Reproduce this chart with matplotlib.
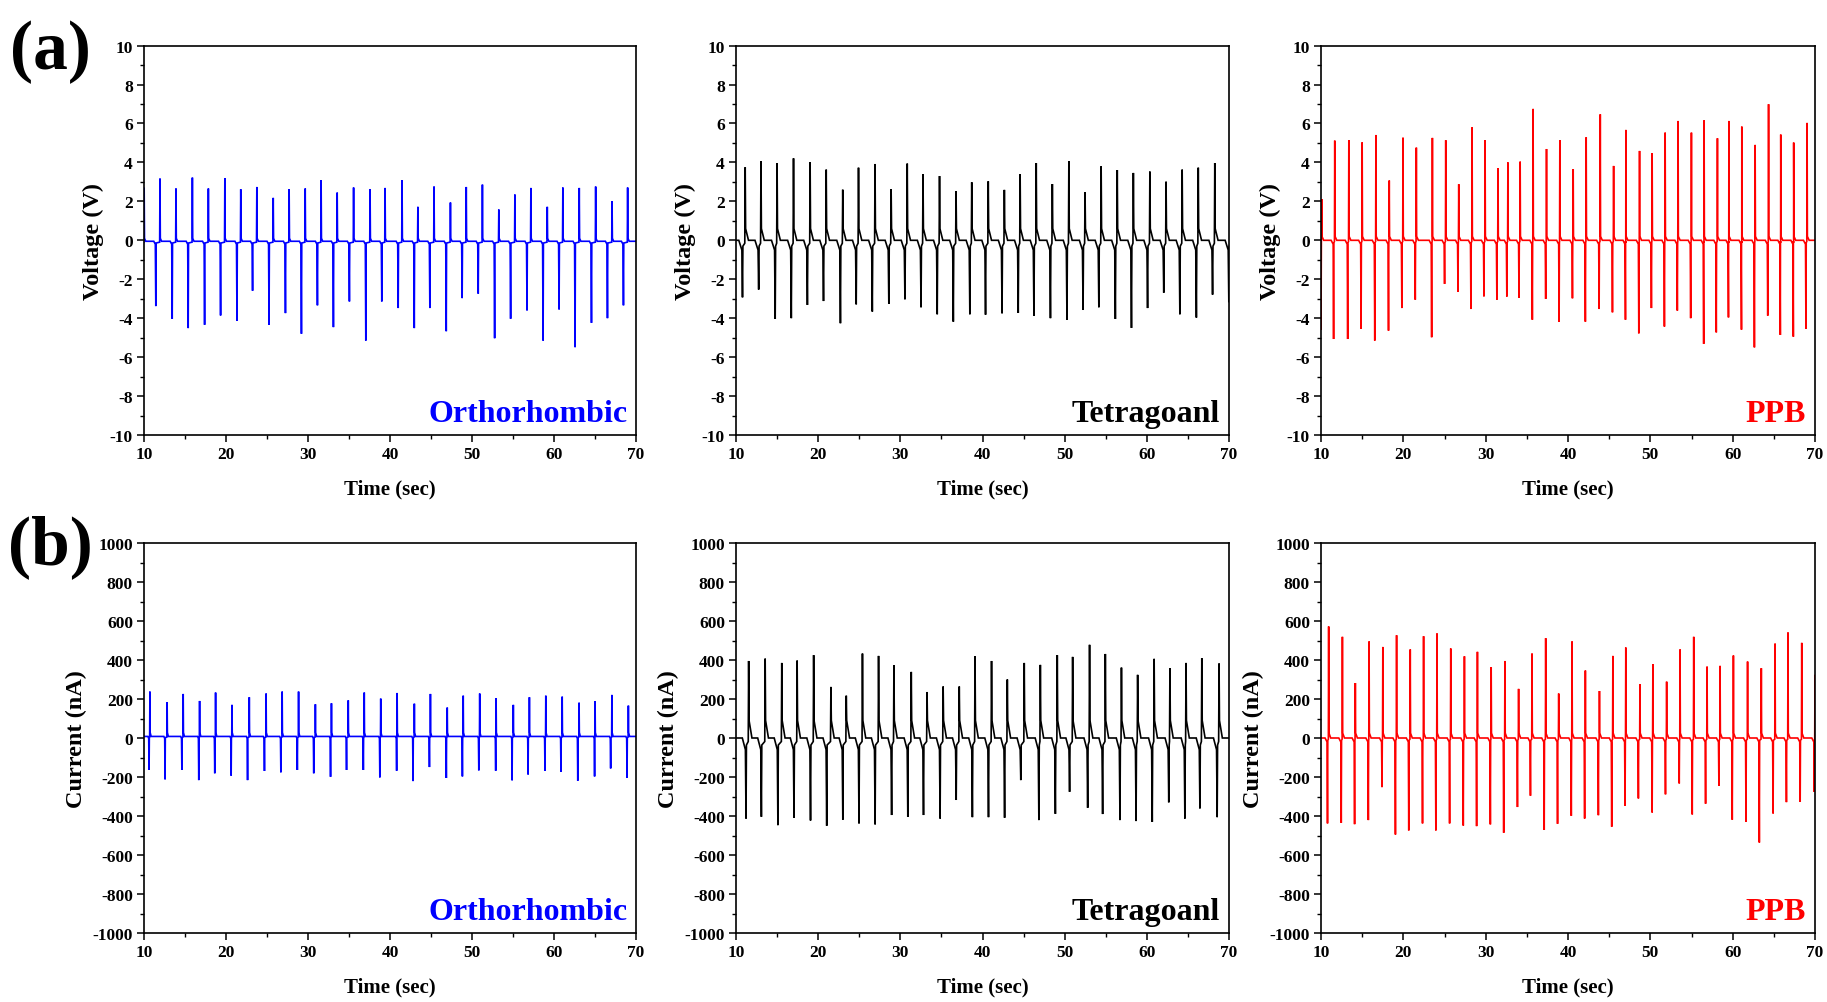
import numpy as np
import matplotlib
matplotlib.use("Agg")
import matplotlib.pyplot as plt
from matplotlib.ticker import MultipleLocator

plt.rcParams['font.family'] = ['Liberation Serif', 'DejaVu Serif']
plt.rcParams['font.weight'] = 'bold'
plt.rcParams['axes.unicode_minus'] = False

# ---------------- data ----------------
# (a) Voltage, Orthorhombic
ORTHO_V_POS_T = [10.02, 11.95, 13.9, 15.9, 17.85, 19.86, 21.8, 23.76, 25.76, 27.7, 29.66, 31.6, 33.56,
                 35.56, 37.57, 39.4, 41.47, 43.4, 45.37, 47.37, 49.3, 51.27, 53.27, 55.23, 57.18,
                 59.18, 61.08, 63.08, 65.08, 67.08, 68.98]
ORTHO_V_POS = [2.7, 3.17, 2.66, 3.22, 2.66, 3.2, 2.62, 2.74, 2.18, 2.62, 2.66, 3.09, 2.45, 2.71, 2.62,
               2.69, 3.09, 1.72, 2.76, 1.94, 2.74, 2.86, 1.58, 2.35, 2.69, 1.72, 2.71, 2.69, 2.76,
               2.0, 2.71]
ORTHO_V_NEG_T = [11.44, 13.44, 15.39, 17.39, 19.34, 21.34, 23.24, 25.25, 27.25, 29.2, 31.15, 33.1,
                 35.05, 37.05, 39.0, 41.0, 42.96, 44.86, 46.86, 48.8, 50.76, 52.76, 54.71, 56.71,
                 58.67, 60.62, 62.57, 64.57, 66.52, 68.47]
ORTHO_V_NEG = [-3.38, -4.03, -4.51, -4.34, -3.86, -4.13, -2.59, -4.34, -3.74, -4.8, -3.34, -4.46,
               -3.14, -5.15, -3.14, -3.48, -4.51, -3.48, -4.67, -2.97, -2.74, -5.03, -4.03, -3.6,
               -5.15, -3.55, -5.49, -4.24, -4.0, -3.34]

# (a) Voltage, Tetragoanl
TETRA_V_POS_T = [11.12, 13.04, 15.0, 17.0, 19.02, 20.98, 22.99, 24.91, 26.92, 28.88, 30.84, 32.76,
                 34.77, 36.78, 38.69, 40.7, 42.66, 44.58, 46.54, 48.5, 50.51, 52.48, 54.44, 56.4,
                 58.36, 60.37, 62.34, 64.3, 66.26, 68.27]
TETRA_V_POS = [3.75, 4.06, 3.97, 4.21, 4.02, 3.63, 2.6, 3.73, 3.92, 2.62, 3.94, 3.39, 3.3, 2.52,
               2.98, 3.03, 2.59, 3.39, 3.97, 2.89, 4.06, 2.47, 3.8, 3.61, 3.46, 3.53, 3.01, 3.63,
               3.73, 3.97]
TETRA_V_NEG_T = [10.79, 12.76, 14.77, 16.73, 18.69, 20.65, 22.71, 24.63, 26.59, 28.6, 30.56, 32.52,
                 34.49, 36.45, 38.46, 40.37, 42.38, 44.35, 46.26, 48.27, 50.28, 52.24, 54.16,
                 56.17, 58.13, 60.09, 62.06, 64.02, 66.03, 68.0, 69.98]
TETRA_V_NEG = [-2.93, -2.53, -4.04, -4.0, -3.32, -3.12, -4.26, -3.29, -3.66, -3.27, -3.03, -3.44,
               -3.8, -4.18, -3.8, -3.82, -3.75, -3.73, -3.87, -4.0, -4.09, -3.58, -3.44, -4.04,
               -4.5, -3.48, -2.69, -3.8, -3.97, -2.79, -3.18]

# (a) Voltage, PPB
PPB_V_POS_T = [10.08, 11.67, 13.38, 15.0, 16.67, 18.29, 19.96, 21.58, 23.53, 25.15, 26.73, 28.35,
               29.93, 31.5, 32.7, 34.19, 35.76, 37.39, 39.01, 40.63, 42.21, 43.92, 45.54, 47.03,
               48.69, 50.22, 51.8, 53.37, 54.99, 56.53, 58.15, 59.54, 61.11, 62.73, 64.36, 65.84,
               67.41, 69.04]
PPB_V_POS = [2.12, 5.12, 5.14, 5.03, 5.41, 3.07, 5.27, 4.76, 5.26, 5.14, 2.88, 5.8, 5.14, 3.7, 4.0,
             4.04, 6.75, 4.69, 5.14, 3.65, 5.29, 6.47, 3.82, 5.67, 4.59, 4.47, 5.53, 6.13, 5.53,
             6.16, 5.24, 6.13, 5.84, 4.9, 6.99, 5.43, 5.02, 6.03]
PPB_V_NEG_T = [10.0, 11.53, 13.24, 14.87, 16.53, 18.2, 19.82, 21.45, 23.44, 25.01, 26.64, 28.21,
               29.79, 31.36, 32.57, 34.05, 35.67, 37.29, 38.92, 40.54, 42.11, 43.78, 45.4, 46.98,
               48.6, 50.13, 51.71, 53.28, 54.9, 56.48, 58.01, 59.49, 61.07, 62.64, 64.26, 65.79,
               67.37, 68.9]
PPB_V_NEG = [-4.6, -5.07, -5.07, -4.55, -5.15, -4.64, -3.48, -3.05, -4.98, -2.24, -2.64, -3.53,
             -2.88, -3.05, -2.89, -2.96, -4.08, -3.01, -4.18, -2.98, -4.18, -3.53, -3.7, -4.08,
             -4.78, -3.48, -4.43, -3.61, -4.0, -5.32, -4.73, -3.96, -4.59, -5.5, -3.87, -4.86,
             -4.95, -4.55]

# (b) Current, Orthorhombic
ORTHO_I_POS_T = [10.72, 12.82, 14.78, 16.78, 18.73, 20.73, 22.84, 24.89, 26.85, 28.85, 30.9, 32.86,
                 34.91, 36.86, 38.87, 40.87, 42.97, 44.93, 46.98, 48.93, 50.94, 52.94, 55.04, 57.0,
                 59.0, 61.0, 63.06, 65.01, 67.06, 69.07]
ORTHO_I_POS = [238, 183, 226, 190, 233, 170, 209, 228, 238, 238, 173, 178, 193, 233, 202, 231, 176,
               226, 156, 217, 228, 204, 170, 209, 217, 212, 181, 188, 221, 166]
ORTHO_I_NEG_T = [10.62, 12.57, 14.62, 16.68, 18.63, 20.63, 22.63, 24.69, 26.69, 28.7, 30.7, 32.75,
                 34.7, 36.75, 38.76, 40.81, 42.81, 44.81, 46.87, 48.83, 50.83, 52.89, 54.89, 56.84,
                 58.9, 60.85, 62.9, 64.95, 66.91, 68.91]
ORTHO_I_NEG = [-164, -212, -164, -216, -181, -193, -216, -169, -176, -164, -181, -199, -164, -164,
               -202, -168, -221, -149, -205, -197, -166, -168, -217, -187, -169, -173, -219, -197,
               -156, -204]

# (b) Current, Tetragoanl
TETRA_I_POS_T = [11.54, 13.55, 15.57, 17.44, 19.45, 21.55, 23.42, 25.39, 27.35, 29.22, 31.33, 33.25,
                 35.21, 37.17, 39.09, 41.1, 43.02, 45.08, 47.04, 49.1, 50.97, 53.03, 54.95, 56.91,
                 58.88, 60.89, 62.81, 64.77, 66.69, 68.79]
TETRA_I_POS = [395, 407, 385, 397, 425, 262, 217, 433, 421, 373, 339, 236, 264, 264, 419, 395, 300,
               385, 375, 425, 416, 478, 431, 361, 324, 406, 358, 385, 409, 382]
TETRA_I_NEG_T = [11.22, 13.09, 15.1, 17.06, 19.07, 21.04, 23.0, 24.97, 26.93, 28.94, 30.91, 32.82,
                 34.84, 36.8, 38.77, 40.73, 42.69, 44.66, 46.86, 48.87, 50.6, 52.8, 54.62, 56.73,
                 58.69, 60.66, 62.67, 64.63, 66.46, 68.56]
TETRA_I_NEG = [-413, -404, -447, -409, -423, -450, -419, -438, -443, -395, -404, -395, -413, -318,
               -406, -406, -409, -216, -421, -389, -276, -358, -390, -421, -426, -430, -330, -413,
               -361, -406]

# (b) Current, PPB
PPB_I_POS_T = [10.93, 12.6, 14.17, 15.84, 17.51, 19.18, 20.84, 22.46, 24.09, 25.76, 27.42, 29.0,
               30.67, 32.34, 34.0, 35.63, 37.29, 38.87, 40.49, 42.11, 43.82, 45.45, 47.02, 48.74,
               50.31, 51.98, 53.61, 55.27, 56.89, 58.47, 60.09, 61.81, 63.48, 65.15, 66.72, 68.39,
               70.0]
PPB_I_POS = [572, 519, 282, 495, 467, 527, 454, 522, 536, 459, 419, 442, 363, 395, 252, 433, 512,
             228, 495, 346, 241, 421, 464, 276, 378, 289, 454, 519, 366, 370, 423, 392, 358, 484,
             541, 488, 324]
PPB_I_NEG_T = [10.79, 12.46, 14.08, 15.75, 17.41, 19.04, 20.66, 22.33, 23.95, 25.62, 27.28, 28.9,
               30.57, 32.19, 33.86, 35.44, 37.11, 38.73, 40.4, 42.02, 43.69, 45.31, 46.93, 48.55,
               50.22, 51.84, 53.51, 55.09, 56.71, 58.33, 59.95, 61.62, 63.24, 64.91, 66.53, 68.2,
               69.91]
PPB_I_NEG = [-438, -435, -442, -421, -252, -495, -474, -438, -474, -438, -449, -452, -443, -486,
             -354, -296, -471, -440, -399, -413, -396, -455, -348, -310, -382, -289, -233, -392,
             -337, -245, -419, -430, -536, -387, -329, -327, -276]

SAMPLE_NAMES = ["Orthorhombic", "Tetragoanl", "PPB"]
COLORS = ["#0000FF", "#000000", "#FF0000"]
X_TICKS = [10, 20, 30, 40, 50, 60, 70]


def build_trace(pos_t, pos_v, neg_t, neg_v, base, w, pre, post, pre_len, post_len):
    pts = [(10.0 - 1.0, base), (70.0 + 1.0, base)]
    for t, v in zip(neg_t, neg_v):
        pts += [(t - pre_len, base), (t - w * 1.5, base + pre), (t, v), (t + w, base + pre * 0.6)]
    for t, v in zip(pos_t, pos_v):
        pts += [(t - w, base + pre * 0.3), (t, v), (t + w, base + post), (t + post_len, base)]
    pts.sort(key=lambda p: p[0])
    arr = np.array(pts)
    return arr[:, 0], arr[:, 1]


fig = plt.figure(figsize=(18.27, 10.03), dpi=100)

col_x = [144 / 1827, 736 / 1827, 1321 / 1827]
col_w = [492 / 1827, 493 / 1827, 494 / 1827]
row_y = [1 - 436 / 1003, 1 - 934 / 1003]
row_h = [(436 - 46.6) / 1003, (934 - 544) / 1003]

panels = [
    # row, col, data, base, w, pre, post, pre_len, post_len
    (0, 0, (ORTHO_V_POS_T, ORTHO_V_POS, ORTHO_V_NEG_T, ORTHO_V_NEG), -0.05, 0.04, -0.15, 0.15, 0.25, 0.2),
    (0, 1, (TETRA_V_POS_T, TETRA_V_POS, TETRA_V_NEG_T, TETRA_V_NEG), 0.0, 0.05, -0.5, 0.6, 0.45, 0.4),
    (0, 2, (PPB_V_POS_T, PPB_V_POS, PPB_V_NEG_T, PPB_V_NEG), 0.0, 0.035, -0.2, 0.2, 0.3, 0.25),
    (1, 0, (ORTHO_I_POS_T, ORTHO_I_POS, ORTHO_I_NEG_T, ORTHO_I_NEG), 8.0, 0.03, -10, 20, 0.15, 0.15),
    (1, 1, (TETRA_I_POS_T, TETRA_I_POS, TETRA_I_NEG_T, TETRA_I_NEG), 0.0, 0.05, -60, 90, 0.45, 0.4),
    (1, 2, (PPB_I_POS_T, PPB_I_POS, PPB_I_NEG_T, PPB_I_NEG), 0.0, 0.035, -20, 25, 0.3, 0.25),
]

for row, col, data, base, w, pre, post, pre_len, post_len in panels:
    ax = fig.add_axes([col_x[col], row_y[row], col_w[col], row_h[row]])
    x, y = build_trace(*data, base, w, pre, post, pre_len, post_len)
    ax.plot(x, y, color=COLORS[col], lw=1.2, solid_joinstyle='miter')
    ax.set_xlim(10, 70)
    ax.set_xticks(X_TICKS)
    ax.xaxis.set_minor_locator(MultipleLocator(5))
    if row == 0:
        ax.set_ylim(-10, 10)
        ax.set_yticks(np.arange(-10, 11, 2))
        ax.yaxis.set_minor_locator(MultipleLocator(1))
        ax.set_ylabel("Voltage (V)", fontsize=17.5, fontweight='bold', labelpad=4)
    else:
        ax.set_ylim(-1000, 1000)
        ax.set_yticks(np.arange(-1000, 1001, 200))
        ax.yaxis.set_minor_locator(MultipleLocator(100))
        ax.set_ylabel("Current (nA)", fontsize=17.5, fontweight='bold', labelpad=4)
    ax.set_xlabel("Time (sec)", fontsize=15, fontweight='bold', labelpad=12)
    ax.tick_params(which='major', direction='out', length=5, width=1.1, labelsize=12.5, pad=3,
                   top=False, right=False)
    ax.tick_params(which='minor', direction='out', length=3, width=1.0, top=False, right=False)
    for lab in ax.get_xticklabels() + ax.get_yticklabels():
        lab.set_fontweight('bold')
    for sp in ax.spines.values():
        sp.set_linewidth(1.2)
    ax.text(0.982, 0.035, SAMPLE_NAMES[col], transform=ax.transAxes, ha='right', va='baseline',
            fontsize=23, fontweight='bold', color=COLORS[col])

fig.text(0.0275, 0.948, "(a)", fontsize=50, fontweight='bold', ha='center', va='center')
fig.text(0.0275, 0.455, "(b)", fontsize=50, fontweight='bold', ha='center', va='center')

fig.savefig("out.png", dpi=100)
